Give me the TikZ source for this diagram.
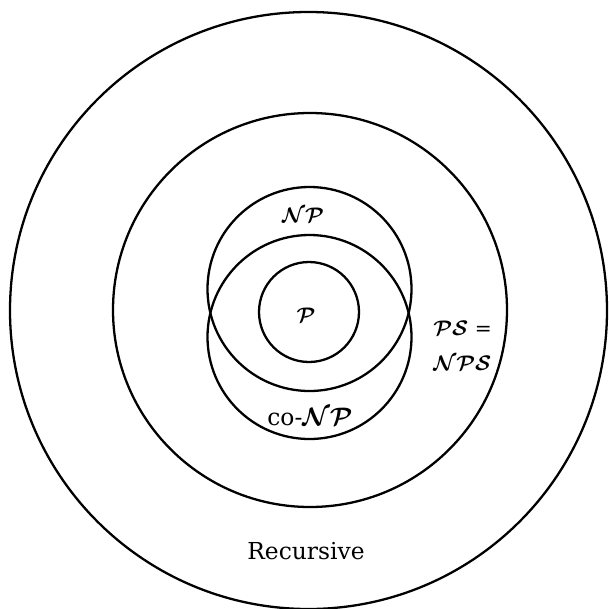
\documentclass[tikz,border=0pt]{standalone}
\usepackage{fontspec}
\setmainfont{DejaVu Serif}
\usepackage{tikz}
\usetikzlibrary{positioning}

\begin{document}
\begin{tikzpicture}[x=0.02cm, y=-0.02cm,
  ring/.style={draw=black, line width=1.3pt},
  classlabel/.style={inner sep=0pt, font=\fontsize{13}{20}\selectfont\boldmath},
  textlabel/.style={inner sep=0pt, font=\fontsize{13.3}{16}\selectfont}]
\useasboundingbox (0,0) rectangle (609,609);

% centres of the rings
\coordinate (recC) at (308.5,310.5);
\coordinate (psC)  at (310,310);
\coordinate (npC)  at (309.5,289);
\coordinate (conpC) at (309.5,337);
\coordinate (pC)   at (309,312);

\draw[ring] (recC) circle [radius=298.5];
\draw[ring] (psC) circle [radius=197];
\draw[ring] (npC) circle [radius=102];
\draw[ring] (conpC) circle [radius=102];
\draw[ring] (pC) circle [radius=50];

% labels
\node[classlabel] (p) at (306,315) {$\mathcal{P}$};
\node[classlabel] (np) at (303,215) {$\mathcal{NP}$};
\node[textlabel] (conp) at (310,417) {co-{\boldmath$\mathcal{NP}$}};
\node[classlabel, anchor=west, align=left, font=\fontsize{11.5}{20}\selectfont\boldmath] (ps) at (433,346)
  {$\mathcal{PS}$ =\\$\mathcal{NPS}$};
\node[textlabel] (rec) at (306,551) {Recursive};
\end{tikzpicture}
\end{document}
